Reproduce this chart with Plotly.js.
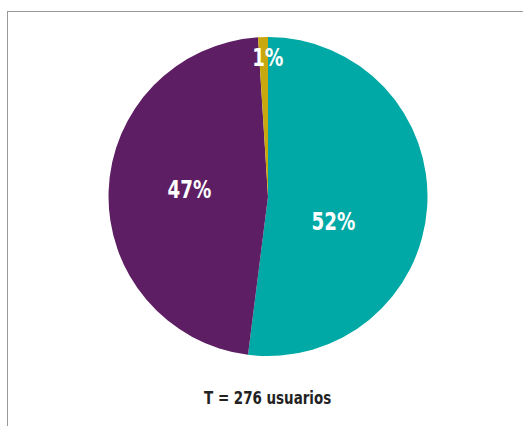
<!DOCTYPE html>
<html>
<head>
<meta charset="utf-8">
<script src="https://cdn.plot.ly/plotly-3.0.1.min.js"></script>
<style>
  html, body { margin: 0; padding: 0; background: #fff; overflow: hidden; }
  #frame { position: absolute; left: 7px; top: 11px; width: 700px; height: 600px; border: 1px solid #999; border-right: none; border-bottom: none; box-sizing: border-box; }
  #chart { position: absolute; left: 0; top: 0; width: 523px; height: 426px; }
  #chart .annotation-text {
    font-stretch: condensed !important;
    transform-box: fill-box;
    transform-origin: center;
    transform: scaleX(0.83);
  }
</style>
</head>
<body>
<div id="frame"></div>
<div id="chart"></div>
<script>
const categories = ["Grupo A", "Grupo B", "Grupo C"];
const values = [52, 47, 1];
const percentLabels = ["52%", "47%", "1%"];
const colors = ["#00A9A5", "#5E1E63", "#C8A80C"];
const caption = "T = 276 usuarios";

const fam = "DejaVu Sans Condensed, DejaVu Sans";
const labelFont = { family: fam, size: 24.5, color: "#ffffff", weight: 700 };
const labelPos = [[0.638, 0.481], [0.363, 0.554], [0.512, 0.864]];

const annotations = percentLabels.map((t, i) => ({
  text: t, x: labelPos[i][0], y: labelPos[i][1], xref: "paper", yref: "paper",
  showarrow: false, font: labelFont, xanchor: "center", yanchor: "middle"
}));
annotations.push({
  text: caption, x: 0.512, y: 0.066, xref: "paper", yref: "paper",
  showarrow: false, xanchor: "center", yanchor: "middle",
  font: { family: fam, size: 18, color: "#222222", weight: 700 }
});

Plotly.newPlot("chart", [{
  type: "pie",
  labels: categories,
  values: values,
  sort: false,
  direction: "clockwise",
  rotation: 0,
  textinfo: "none",
  hoverinfo: "label+percent",
  marker: { colors: colors, line: { width: 0 } },
  domain: { x: [0.2065, 0.8184], y: [0.1643, 0.9131] },
  showlegend: false
}], {
  width: 523, height: 426,
  margin: { l: 0, r: 0, t: 0, b: 0 },
  paper_bgcolor: "rgba(0,0,0,0)",
  plot_bgcolor: "rgba(0,0,0,0)",
  showlegend: false,
  annotations: annotations
}, { displayModeBar: false, staticPlot: true });
</script>
</body>
</html>
